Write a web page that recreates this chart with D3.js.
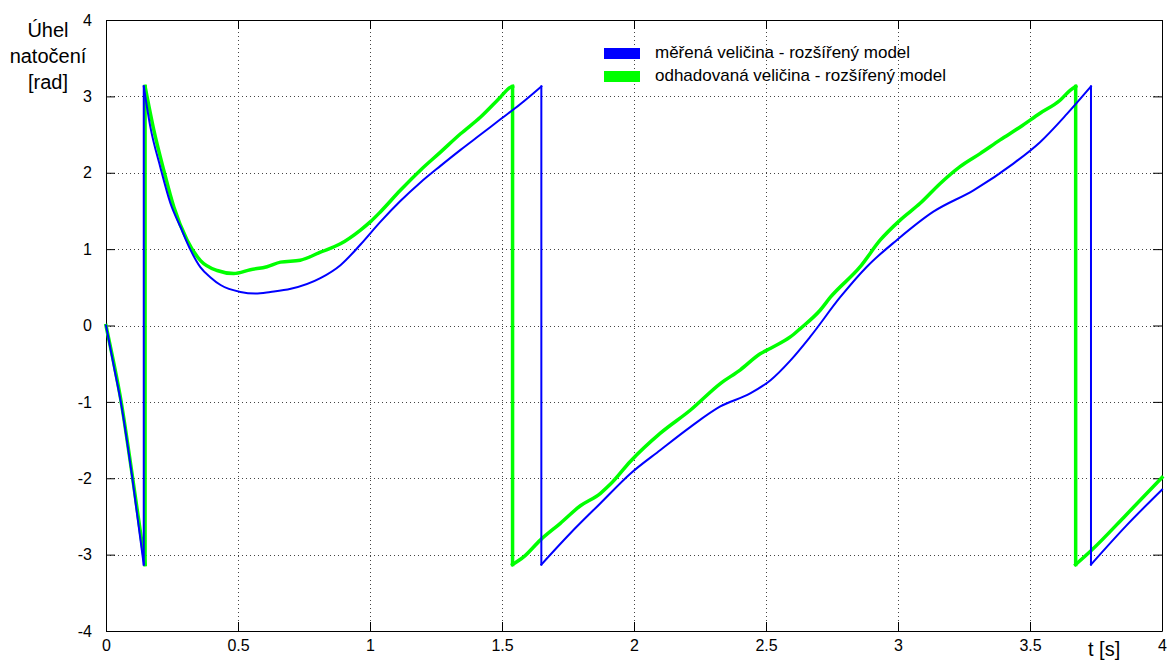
<!DOCTYPE html>
<html>
<head>
<meta charset="utf-8">
<script src="https://cdn.jsdelivr.net/npm/d3@7"></script>
<style>
  body { margin: 0; background: #fff; }
  svg { display: block; font-family: Arial, "Liberation Sans", sans-serif; }
</style>
</head>
<body>
<svg width="1168" height="661"></svg>
<script>
// measured angle (blue)
const tMeasured = [0, 0.03, 0.055, 0.099, 0.143, 0.143, 0.168, 0.206, 0.244, 0.282, 0.32, 0.358, 0.396, 0.434, 0.509, 0.566, 0.623, 0.7, 0.812, 0.888, 0.964, 1.04, 1.115, 1.19, 1.267, 1.343, 1.419, 1.494, 1.57, 1.649, 1.649, 1.759, 1.872, 1.986, 2.1, 2.213, 2.327, 2.44, 2.516, 2.592, 2.667, 2.781, 2.882, 2.996, 3.134, 3.286, 3.437, 3.538, 3.64, 3.731, 3.731, 3.865, 4];
const vMeasured = [0, -0.54, -0.98, -1.98, -3.13, 3.13, 2.6, 2.07, 1.6, 1.29, 0.99, 0.76, 0.63, 0.53, 0.44, 0.42, 0.44, 0.48, 0.62, 0.79, 1.06, 1.36, 1.63, 1.87, 2.09, 2.3, 2.5, 2.7, 2.9, 3.13, -3.13, -2.72, -2.33, -1.94, -1.63, -1.33, -1.06, -0.89, -0.72, -0.46, -0.15, 0.37, 0.77, 1.12, 1.49, 1.77, 2.12, 2.4, 2.77, 3.13, -3.13, -2.62, -2.15];

// estimated angle (green)
const tEstimated = [0, 0.03, 0.055, 0.099, 0.148, 0.148, 0.181, 0.219, 0.257, 0.307, 0.358, 0.421, 0.484, 0.547, 0.61, 0.661, 0.736, 0.812, 0.888, 0.964, 1.002, 1.04, 1.115, 1.19, 1.267, 1.343, 1.419, 1.494, 1.532, 1.54, 1.54, 1.582, 1.645, 1.721, 1.797, 1.872, 1.91, 1.986, 2.1, 2.213, 2.327, 2.403, 2.478, 2.516, 2.592, 2.63, 2.705, 2.744, 2.857, 2.933, 3.008, 3.084, 3.16, 3.235, 3.311, 3.387, 3.463, 3.538, 3.614, 3.652, 3.673, 3.673, 3.734, 3.864, 4];
const vEstimated = [0, -0.5, -0.95, -1.95, -3.13, 3.13, 2.56, 2.03, 1.55, 1.12, 0.85, 0.72, 0.68, 0.73, 0.77, 0.83, 0.855, 0.96, 1.07, 1.25, 1.36, 1.49, 1.77, 2.03, 2.27, 2.51, 2.73, 2.99, 3.12, 3.13, -3.13, -3.03, -2.81, -2.59, -2.36, -2.2, -2.08, -1.78, -1.41, -1.11, -0.76, -0.58, -0.37, -0.3, -0.15, -0.04, 0.2, 0.37, 0.77, 1.12, 1.38, 1.6, 1.86, 2.08, 2.25, 2.43, 2.6, 2.78, 2.95, 3.08, 3.13, -3.13, -2.94, -2.48, -1.99];

const xTicks = [0, 0.5, 1, 1.5, 2, 2.5, 3, 3.5, 4];
const yTicks = [-4, -3, -2, -1, 0, 1, 2, 3, 4];
const seriesNames = ["měřená veličina - rozšířený model", "odhadovaná veličina - rozšířený model"];
const seriesColors = ["#0000ff", "#00ff00"];

const svg = d3.select("svg"),
  margin = { top: 20, right: 6, bottom: 30, left: 106 },
  width = +svg.attr("width") - margin.left - margin.right,
  height = +svg.attr("height") - margin.top - margin.bottom;

const x = d3.scaleLinear().domain([0, 4]).range([0, width]);
const y = d3.scaleLinear().domain([-4, 4]).range([height, 0]);

const g = svg.append("g")
  .attr("transform", "translate(" + margin.left + "," + margin.top + ")");

// dotted grid
g.append("g")
  .selectAll("line")
  .data(xTicks.slice(1, -1))
  .enter().append("line")
  .attr("x1", d => x(d) + 0.5).attr("x2", d => x(d) + 0.5)
  .attr("y1", 0).attr("y2", height)
  .attr("stroke", "#444").attr("stroke-dasharray", "1,3");

g.append("g")
  .selectAll("line")
  .data(yTicks.slice(1, -1))
  .enter().append("line")
  .attr("y1", d => Math.round(y(d)) + 0.5).attr("y2", d => Math.round(y(d)) + 0.5)
  .attr("x1", 0).attr("x2", width)
  .attr("stroke", "#444").attr("stroke-dasharray", "1,3");

// axes with inward ticks
const fmt = d => String(d);
g.append("g")
  .attr("class", "axis axis--x")
  .attr("transform", "translate(0," + height + ")")
  .call(d3.axisBottom(x).tickValues(xTicks).tickFormat(fmt).tickSizeInner(-9).tickSizeOuter(0).tickPadding(9));

g.append("g")
  .call(d3.axisTop(x).tickValues(xTicks).tickFormat("").tickSizeInner(-9).tickSizeOuter(0));

g.append("g")
  .attr("class", "axis axis--y")
  .call(d3.axisLeft(y).tickValues(yTicks).tickFormat(fmt).tickSizeInner(-9).tickSizeOuter(0).tickPadding(14));

g.append("g")
  .attr("transform", "translate(" + width + ",0)")
  .call(d3.axisRight(y).tickValues(yTicks).tickFormat("").tickSizeInner(-9).tickSizeOuter(0));

g.selectAll(".domain").attr("stroke", "#000");
g.selectAll(".tick line").attr("stroke", "#000");
g.selectAll(".tick text").attr("font-size", 16).attr("fill", "#000")
  .attr("font-family", "Arial, 'Liberation Sans', sans-serif");

// curves: smooth pieces between the wrap-around jumps, jumps drawn straight
const line = d3.line()
  .x(d => x(d[0]))
  .y(d => y(d[1]))
  .curve(d3.curveMonotoneX);

function pieces(ts, vs) {
  const out = [];
  let cur = [];
  ts.forEach((t, i) => {
    if (i > 0 && t === ts[i - 1]) {
      out.push(cur);
      out.push([[ts[i - 1], vs[i - 1]], [t, vs[i]]]);
      cur = [];
    }
    cur.push([t, vs[i]]);
  });
  out.push(cur);
  return out;
}

function drawSeries(ts, vs, color, w) {
  g.append("g")
    .selectAll("path")
    .data(pieces(ts, vs))
    .enter().append("path")
    .attr("fill", "none")
    .attr("stroke", color)
    .attr("stroke-width", w)
    .attr("stroke-linecap", "square")
    .attr("d", line);
}

drawSeries(tEstimated, vEstimated, seriesColors[1], 3.5);
drawSeries(tMeasured, vMeasured, seriesColors[0], 2);

// legend
const legend = svg.append("g").attr("transform", "translate(604,48)");
seriesNames.forEach((name, i) => {
  legend.append("rect")
    .attr("x", 0).attr("y", i * 23)
    .attr("width", 36).attr("height", 11)
    .attr("fill", seriesColors[i]);
  legend.append("text")
    .attr("x", 51).attr("y", i * 23 + 10)
    .attr("font-size", 17)
    .attr("fill", "#000")
    .text(name);
});

// axis labels
const yLabel = svg.append("text")
  .attr("text-anchor", "middle")
  .attr("font-size", 20)
  .attr("fill", "#000");
["Úhel", "natočení", "[rad]"].forEach((s, i) => {
  yLabel.append("tspan").attr("x", 48).attr("y", 37 + i * 26).text(s);
});

svg.append("text")
  .attr("x", 1088).attr("y", 656)
  .attr("font-size", 20)
  .attr("fill", "#000")
  .text("t [s]");
</script>
</body>
</html>
